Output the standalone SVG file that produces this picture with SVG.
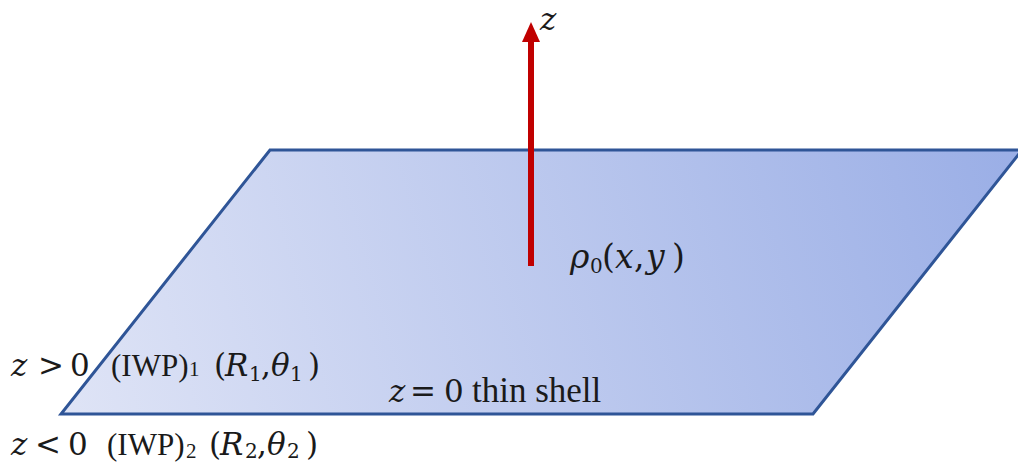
<svg xmlns="http://www.w3.org/2000/svg" width="1018" height="463" viewBox="0 0 1018 463">
<defs>
<linearGradient id="g" x1="61" y1="414" x2="1022" y2="150" gradientUnits="userSpaceOnUse">
<stop offset="0" stop-color="#dfe4f6"/>
<stop offset="1" stop-color="#9aaee6"/>
</linearGradient>
<style>
text{font-family:"Liberation Serif","DejaVu Serif",serif;fill:#1a1a1a;font-size:31px}
.m{font-family:"DejaVu Serif",serif;font-size:31px}
.i{font-family:"DejaVu Serif",serif;font-style:italic;font-size:31px}
.r{font-family:"DejaVu Serif",serif;font-size:33px}
.ri{font-family:"DejaVu Serif",serif;font-style:italic;font-size:33px}
.s{font-family:"DejaVu Serif",serif;font-size:20px}
.t{font-size:21px}
.b{font-size:35px}
</style>
</defs>
<rect width="1018" height="463" fill="#ffffff"/>
<g id="plane">
<polygon points="270,150 1022,150 813,414 61,414" fill="url(#g)" stroke="#2f5597" stroke-width="3"/>
</g>
<g id="connectors">
<line x1="531" y1="266" x2="531" y2="38" stroke="#c00000" stroke-width="6"/>
<polygon points="522,42 540,42 531,22" fill="#c00000"/>
</g>
<g id="label-z">
<text x="540" y="30" class="i">z</text>
</g>
<g id="label-rho">
<text y="268"><tspan x="570" class="ri">ρ</tspan><tspan x="590" dy="5" class="s">0</tspan><tspan x="602" dy="-5" class="r">(</tspan><tspan x="615" class="ri">x</tspan><tspan x="634" class="r">,</tspan><tspan x="646" class="ri">y</tspan><tspan x="672" class="r">)</tspan></text>
</g>
<g id="label-shell">
<text y="402"><tspan x="389" class="i">z</tspan><tspan x="410" class="m">=</tspan><tspan x="444" class="m">0</tspan><tspan x="472" class="b">thin shell</tspan></text>
</g>
<g id="label-upper">
<text y="376"><tspan x="11" class="i">z</tspan><tspan x="38" class="m">&gt;</tspan><tspan x="70" class="m">0</tspan><tspan x="111">(IWP)</tspan><tspan x="189" class="t">1</tspan><tspan x="214" class="m">(</tspan><tspan x="225" class="i">R</tspan><tspan x="249" dy="5" class="s">1</tspan><tspan x="261" dy="-5" class="m">,</tspan><tspan x="271" class="i">θ</tspan><tspan x="290" dy="5" class="s">1</tspan><tspan x="308" dy="-5" class="m">)</tspan></text>
</g>
<g id="label-lower">
<text y="455"><tspan x="11" class="i">z</tspan><tspan x="35" class="m">&lt;</tspan><tspan x="68" class="m">0</tspan><tspan x="107">(IWP)</tspan><tspan x="186" dy="3" class="t">2</tspan><tspan x="209" dy="-3" class="m">(</tspan><tspan x="220" class="i">R</tspan><tspan x="245" dy="3" class="s">2</tspan><tspan x="257" dy="-3" class="m">,</tspan><tspan x="267" class="i">θ</tspan><tspan x="287" dy="3" class="s">2</tspan><tspan x="306" dy="-3" class="m">)</tspan></text>
</g>
</svg>
